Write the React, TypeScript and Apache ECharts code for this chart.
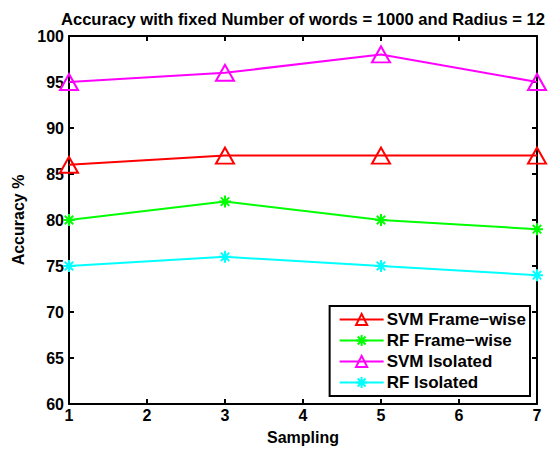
import React, { useEffect, useRef } from "react";
import * as echarts from "echarts";

const sampling = [1, 3, 5, 7];
const svmFrameWise = [86, 87, 87, 87];
const rfFrameWise = [80, 82, 80, 79];
const svmIsolated = [95, 96, 98, 95];
const rfIsolated = [75, 76, 75, 74];

const seriesNames = ["SVM Frame\u2212wise", "RF Frame\u2212wise", "SVM Isolated", "RF Isolated"];
const seriesColors = ["#ff0000", "#00ff00", "#ff00ff", "#00ffff"];

const FONT = "Liberation Sans, Arial, Helvetica, sans-serif";
const ASTERISK = "path://M0,-10L0,10M-10,0L10,0M-7,-7L7,7M-7,7L7,-7";

function makeSeries(name: string, values: number[], color: string, marker: "tri" | "star") {
  return {
    name,
    type: "line",
    data: sampling.map((x, i) => [x, values[i]]),
    symbol: marker === "tri" ? "triangle" : ASTERISK,
    symbolSize: marker === "tri" ? [18, 16] : 12,
    showSymbol: true,
    lineStyle: { color, width: 2 },
    itemStyle: {
      color: "rgba(0,0,0,0)",
      borderColor: color,
      borderWidth: 2,
    },
    emphasis: { disabled: true },
    z: 3,
  };
}

export default function App() {
  const ref = useRef<HTMLDivElement>(null);

  useEffect(() => {
    if (!ref.current) return;
    const chart = echarts.init(ref.current, undefined, { renderer: "svg" });
    const textBase = { color: "#000", fontFamily: FONT, fontWeight: 700, fontSize: 16 };
    const boxLine = { color: "#000", width: 2 };
    const inTick = { inside: true, length: 5, lineStyle: boxLine };
    chart.setOption({
      animation: false,
      backgroundColor: "#fff",
      title: {
        text: "Accuracy with fixed Number of words = 1000 and Radius = 12",
        left: 298,
        top: 6,
        textAlign: "center",
        textStyle: { ...textBase, fontSize: 16.6 },
      },
      grid: { left: 69, right: 15, top: 36, bottom: 45 },
      legend: {
        right: 22,
        top: 306,
        orient: "vertical",
        backgroundColor: "#fff",
        borderColor: "#000",
        borderWidth: 2,
        padding: [5, 4, 5, 9],
        itemGap: 4,
        itemWidth: 44,
        itemHeight: 14,
        textStyle: { ...textBase, fontSize: 17, padding: [0, 0, 0, -2] },
        data: seriesNames,
      },
      xAxis: [
        {
          type: "value",
          min: 1,
          max: 7,
          interval: 1,
          position: "bottom",
          name: "Sampling",
          nameLocation: "middle",
          nameGap: 25,
          nameTextStyle: textBase,
          axisLine: { lineStyle: boxLine },
          axisTick: inTick,
          axisLabel: { ...textBase, margin: 3 },
          splitLine: { show: false },
        },
        {
          type: "value",
          min: 1,
          max: 7,
          interval: 1,
          position: "top",
          axisLine: { lineStyle: boxLine },
          axisTick: inTick,
          axisLabel: { show: false },
          splitLine: { show: false },
        },
      ],
      yAxis: [
        {
          type: "value",
          min: 60,
          max: 100,
          interval: 5,
          position: "left",
          name: "Accuracy %",
          nameLocation: "middle",
          nameGap: 40,
          nameTextStyle: textBase,
          axisLine: { lineStyle: boxLine },
          axisTick: inTick,
          axisLabel: { ...textBase, margin: 5 },
          splitLine: { show: false },
        },
        {
          type: "value",
          min: 60,
          max: 100,
          interval: 5,
          position: "right",
          axisLine: { show: true, lineStyle: boxLine },
          axisTick: { show: true, ...inTick },
          axisLabel: { show: false },
          splitLine: { show: false },
        },
      ],
      series: [
        makeSeries(seriesNames[0], svmFrameWise, seriesColors[0], "tri"),
        makeSeries(seriesNames[1], rfFrameWise, seriesColors[1], "star"),
        makeSeries(seriesNames[2], svmIsolated, seriesColors[2], "tri"),
        makeSeries(seriesNames[3], rfIsolated, seriesColors[3], "star"),
      ],
    });
    return () => chart.dispose();
  }, []);

  return <div ref={ref} style={{ width: 552, height: 450, position: "absolute", left: 0, top: 0 }} />;
}
